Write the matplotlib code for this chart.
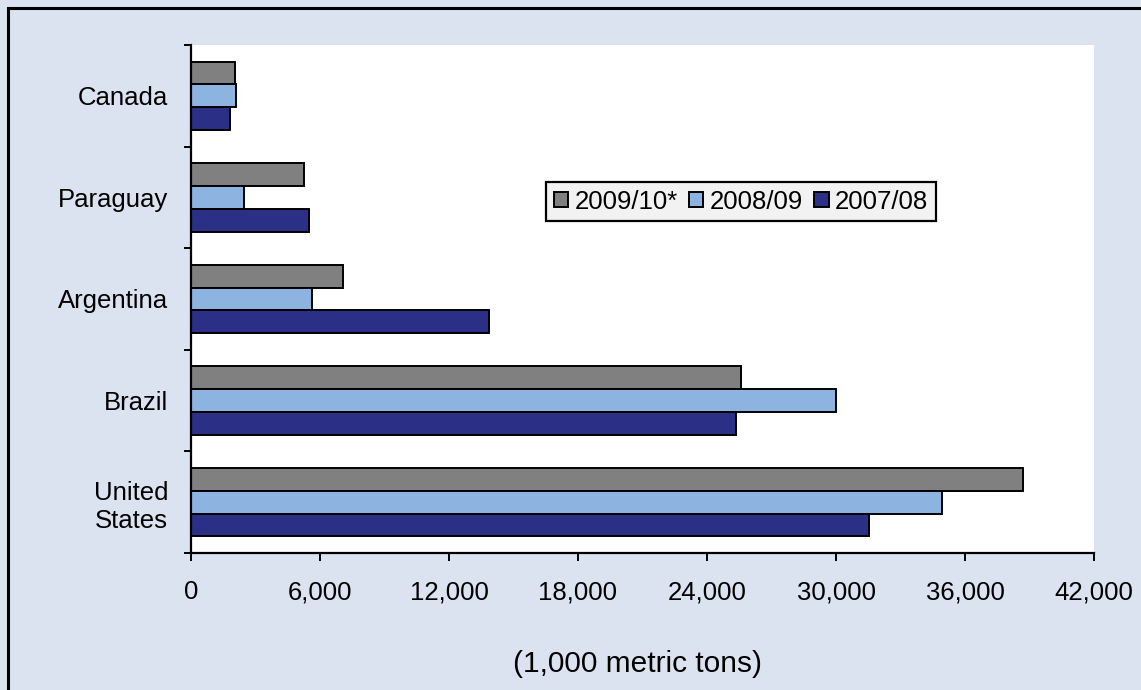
import matplotlib.pyplot as plt
import numpy as np
from matplotlib.patches import Rectangle

plt.rcParams['font.family'] = ['Liberation Sans', 'DejaVu Sans']

countries = ['United\nStates', 'Brazil', 'Argentina', 'Paraguay', 'Canada']
seasons = ['2009/10*', '2008/09', '2007/08']
prod_0910 = [38700, 25600, 7050, 5250, 2050]
prod_0809 = [34950, 30000, 5650, 2450, 2100]
prod_0708 = [31550, 25350, 13850, 5500, 1800]
xticks = [0, 6000, 12000, 18000, 24000, 30000, 36000, 42000]

colors = ['#808080', '#8db3e1', '#2b3086']
fs = 18.5

fig = plt.figure(figsize=(11.41, 6.90), dpi=100, facecolor='#dce3f0')
fig.patches.append(Rectangle((8 / 1141, -0.1), 1.2, 1.1 - 8 / 690,
                             transform=fig.transFigure, fill=False,
                             edgecolor='black', linewidth=2.2))
ax = fig.add_axes([191 / 1141, 1 - 553 / 690, (1094 - 191) / 1141, (553 - 45) / 690])
ax.set_facecolor('white')

y = np.arange(len(countries))
h = 0.225
series = [prod_0910, prod_0809, prod_0708]
for i, (vals, lab, c) in enumerate(zip(series, seasons, colors)):
    ax.barh(y + (1 - i) * h, vals, height=h, color=c, edgecolor='black',
            linewidth=1.4, label=lab)

ax.set_xlim(0, 42000)
ax.set_ylim(-0.5, len(countries) - 0.5)
ax.set_xticks(xticks)
ax.set_xticklabels([f'{v:,}' for v in xticks], fontsize=fs)
ax.set_yticks(y)
ax.set_yticklabels(countries, fontsize=fs, ha='right', multialignment='right')
ax.set_yticks(np.arange(-0.5, len(countries)), minor=True)
ax.tick_params(axis='y', which='major', length=0, pad=16.5)
ax.tick_params(axis='y', which='minor', length=5, width=1.4, direction='out')
ax.tick_params(axis='x', length=5.5, width=1.4, direction='out', pad=14)

for s in ['top', 'right']:
    ax.spines[s].set_visible(False)
for s in ['left', 'bottom']:
    ax.spines[s].set_linewidth(1.6)

ax.set_xlabel('(1,000 metric tons)', fontsize=21.5)
ax.xaxis.set_label_coords(0.494, -0.218)
ax.xaxis.label.set_va('center')

leg = ax.legend(loc='upper left', bbox_to_anchor=((546 - 191) / 903, 1 - (182 - 45) / 508),
                ncol=3, fontsize=fs, frameon=True, fancybox=False,
                handlelength=0.55, handleheight=0.55, handletextpad=0.25,
                columnspacing=0.45, borderpad=0.3, borderaxespad=0)
leg.get_frame().set_facecolor('#f2f2f2')
leg.get_frame().set_edgecolor('black')
leg.get_frame().set_linewidth(1.6)
leg.get_frame().set_alpha(1)

fig.savefig('out.png', dpi=100, facecolor=fig.get_facecolor())
